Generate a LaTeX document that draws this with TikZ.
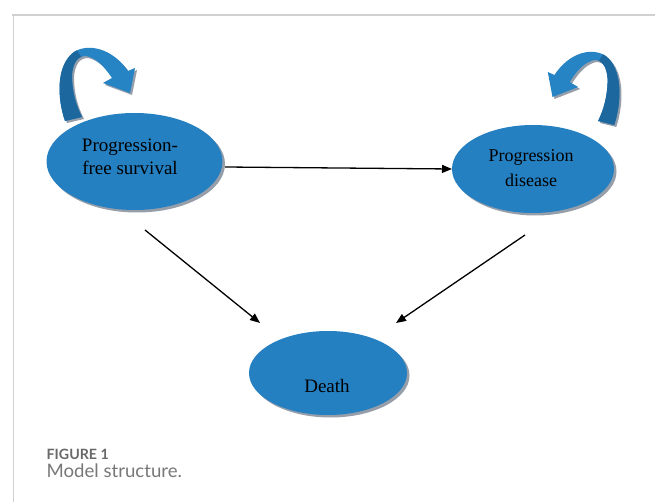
\documentclass[tikz,border=0pt]{standalone}
\usepackage{fontspec}
\setmainfont{Liberation Serif}
\newfontfamily\capfont{Lato}
\usetikzlibrary{arrows.meta,shadows,shapes.geometric}
\definecolor{ellblue}{RGB}{37,128,194}
\definecolor{arrlight}{RGB}{38,132,197}
\definecolor{arrdark}{RGB}{28,104,158}
\definecolor{shadowgray}{RGB}{150,158,170}
\definecolor{framegray}{RGB}{208,208,208}
\definecolor{capgray}{RGB}{105,105,105}
\definecolor{capgraylight}{RGB}{120,120,120}
\def\looppath{(65,121) .. controls (57,98) and (56,65) .. (74,52) .. controls (88,43) and (112,48) .. (128,71) -- (135,68) -- (130,93) -- (103,83) -- (112,78) .. controls (104,66) and (96,58) .. (86,56) .. controls (78,56) and (73,62) .. (72,75) .. controls (72,92) and (76,105) .. (82,117) -- cycle}
\def\darkclip{(30,140) -- (95,140) -- (82,58) -- (76,49) -- (30,49) -- cycle}
\begin{document}
\begin{tikzpicture}[x=1pt,y=-1pt,
  stateell/.style={ellipse, fill=ellblue, draw=none, inner sep=0pt,
    drop shadow={shadow xshift=2.5pt, shadow yshift=-2.5pt, fill=shadowgray, opacity=1}},
  lbl/.style={font=\fontsize{19}{23}\selectfont, align=center, text=black, inner sep=0pt},
  conn/.style={line width=1.3pt, -{Triangle[length=10pt,width=8pt]}},
  caplbl/.style={anchor=base west, inner sep=0pt}
]
\useasboundingbox (0,0) rectangle (655,502);
\fill[white] (0,0) rectangle (655,502);
\draw[framegray, line width=1.5pt] (12,15) -- (655,15);
\draw[framegray, line width=1.5pt] (13.5,15) -- (13.5,502);

% left self-loop arrow
\fill[shadowgray, shift={(2,2)}] \looppath;
\fill[arrlight] \looppath;
\begin{scope}
  \clip \darkclip;
  \fill[arrdark] \looppath;
\end{scope}

% right self-loop arrow (mirrored)
\begin{scope}[shift={(678,6)}, xscale=-0.95]
  \fill[shadowgray] \looppath;
\end{scope}
\begin{scope}[shift={(676,4)}, xscale=-0.95]
  \fill[arrlight] \looppath;
  \clip \darkclip;
  \fill[arrdark] \looppath;
\end{scope}

% states
\node[stateell, minimum width=176pt, minimum height=97pt] (pfs) at (134.5,161.5) {};
\node[stateell, minimum width=162pt, minimum height=88pt] (pd) at (533,169) {};
\node[stateell, minimum width=158pt, minimum height=84pt] (death) at (328,373) {};

\node[lbl] (pfstxt) at (130,157) {Progression-\\free survival};
\node[lbl, font=\fontsize{18}{25}\selectfont] (pdtxt) at (531,168) {Progression\\disease};
\node[lbl] (deathtxt) at (327,386) {Death};

% transitions
\coordinate (pfsout) at (225,167);
\coordinate (pdin) at (452,169);
\coordinate (pfsdown) at (145,230);
\coordinate (deathinl) at (260,323);
\coordinate (pddown) at (525,235);
\coordinate (deathinr) at (396,323);
\draw[conn] (pfsout) -- (pdin);
\draw[conn] (pfsdown) -- (deathinl);
\draw[conn] (pddown) -- (deathinr);

% caption
\node[caplbl, text=capgray, font=\capfont\bfseries\fontsize{14.2}{16}\selectfont] (figlabel) at (46.5,459) {FIGURE 1};
\node[caplbl, text=capgraylight, font=\capfont\fontsize{18.6}{21}\selectfont] (figcap) at (46.5,477) {Model structure.};
\end{tikzpicture}
\end{document}
